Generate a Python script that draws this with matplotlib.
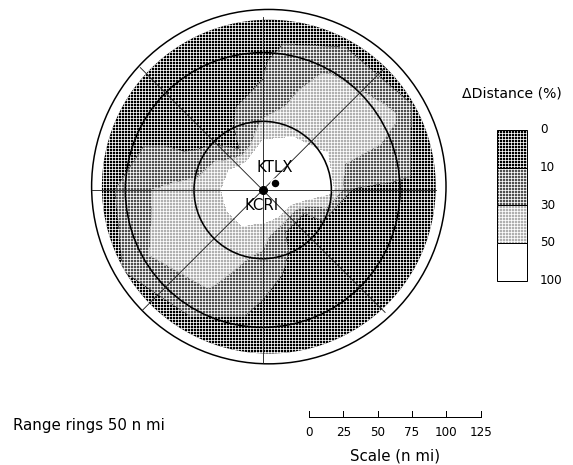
import numpy as np
import matplotlib
matplotlib.use("Agg")
import matplotlib.pyplot as plt
from matplotlib.patches import Circle, Rectangle

# Delta distance (%): rows = azimuth (deg clockwise from N),
# columns = range from KCRI (n mi)
azimuths = [0, 30, 60, 90, 120, 150, 180, 210, 240, 270, 300, 330]
ranges = [0, 15, 25, 35, 50, 65, 80, 95, 110, 125, 140]
ddist = [
    [100, 85, 70, 52, 32, 18, 10, 8, 7, 5, 5],
    [100, 88, 75, 58, 45, 42, 40, 33, 18, 6, 5],
    [100, 92, 85, 75, 52, 45, 42, 40, 33, 10, 5],
    [100, 92, 85, 75, 55, 9, 7, 6, 5, 5, 5],
    [100, 75, 40, 8, 5, 5, 5, 5, 5, 5, 5],
    [100, 70, 42, 8, 5, 5, 5, 5, 5, 5, 5],
    [100, 80, 48, 38, 25, 14, 10, 7, 5, 5, 5],
    [100, 85, 55, 45, 40, 38, 32, 18, 7, 5, 5],
    [100, 85, 55, 45, 40, 38, 36, 30, 15, 5, 5],
    [100, 80, 58, 42, 38, 35, 30, 20, 8, 5, 5],
    [100, 80, 55, 40, 14, 6, 5, 5, 5, 5, 5],
    [100, 75, 45, 9, 5, 5, 5, 5, 5, 5, 5],
]

levels = [0, 10, 30, 50, 100]
level_labels = ['0', '10', '30', '50', '100']
# screen of each band, darkest first: dots of face colour inside a white grid
band_face = ['black', '#505050', '#b0b0b0', 'white']
band_hatch = ['++++', '++++', '++++', None]

radars = ['KCRI', 'KTLX']
radar_x = [0.0, 8.9]
radar_y = [0.0, 4.9]

ring_ranges = [50, 100]
spoke_az = [0, 45, 90, 135, 180, 225, 270, 315]
spoke_len = 126
domain_r = 121.5
outer_r = 129
scale_ticks = [0, 25, 50, 75, 100, 125]

plt.rcParams['font.family'] = 'DejaVu Sans'
plt.rcParams['hatch.linewidth'] = 0.75
plt.rcParams['hatch.color'] = 'white'

S = 1.3736  # px per n mi
fig = plt.figure(figsize=(573 / 72, 465 / 72), dpi=72)
ax = fig.add_axes([0, 0, 1, 1])
ax.set_xlim(-262.7 / S, (573 - 262.7) / S)
ax.set_ylim((190 - 465) / S, 190 / S)
ax.axis('off')

# field on the polar grid (close the circle by repeating north)
az = np.radians(azimuths + [360])
Z = np.array(ddist + [ddist[0]], float)
R, A = np.meshgrid(ranges, az)
X = R * np.sin(A)
Y = R * np.cos(A)

mid = ((radar_x[0] + radar_x[1]) / 2, (radar_y[0] + radar_y[1]) / 2)
clip = Circle(mid, domain_r, transform=ax.transData, facecolor='none', edgecolor='none')
ax.add_patch(clip)
cs = ax.contourf(X, Y, Z, levels=levels, colors=band_face, hatches=band_hatch)
cs.set_clip_path(clip)

# range rings and azimuth lines
outer = Circle(mid, outer_r, facecolor='none', edgecolor='black', lw=1.5, zorder=3)
ax.add_patch(outer)
for r in ring_ranges:
    ax.add_patch(Circle((0, 0), r, facecolor='none', edgecolor='black', lw=1.6, zorder=3))
for a in spoke_az:
    t = np.radians(a)
    ln, = ax.plot([0, spoke_len * np.sin(t)], [0, spoke_len * np.cos(t)],
                  color='#222222', lw=0.9, zorder=3)
    ln.set_clip_path(outer)

# radars
ax.plot(radar_x[0], radar_y[0], 'o', color='black', ms=8, zorder=5)
ax.plot(radar_x[1], radar_y[1], 'o', color='black', ms=9, mec='white', mew=1.5, zorder=5)
ax.text(radar_x[1] + 0.05, 16.7, radars[1], ha='center', va='center', fontsize=15, zorder=6)
ax.text(-0.5, -11.4, radars[0], ha='center', va='center', fontsize=15, zorder=6)

# legend
lx0, lx1 = 170.7, 192.6
ly_top, ly_bot = 43.7, -66.0
edges = np.linspace(ly_top, ly_bot, len(levels))
for i in range(len(levels) - 1):
    h = edges[i] - edges[i + 1]
    ax.add_patch(Rectangle((lx0, edges[i + 1]), lx1 - lx0, h, facecolor=band_face[i],
                           edgecolor='white', lw=0, hatch=band_hatch[i]))
    ax.add_patch(Rectangle((lx0, edges[i + 1]), lx1 - lx0, h, facecolor='none',
                           edgecolor='black', lw=1.0))
for y, lab in zip(edges, level_labels):
    ax.text(201.9, y, lab, ha='left', va='center', fontsize=12)
ax.text(181.1, 70.4, '\u0394Distance (%)', ha='center', va='center', fontsize=14)

# scale bar
x0 = 33.7
ybar = -165.0
ax.plot([x0, x0 + scale_ticks[-1]], [ybar, ybar], color='black', lw=1.0)
for t in scale_ticks:
    ax.plot([x0 + t, x0 + t], [ybar, ybar + 4.4], color='black', lw=1.0)
    ax.text(x0 + t, -176.9, str(t), ha='center', va='center', fontsize=12)
ax.text(x0 + scale_ticks[-1] / 2, -193.7, 'Scale (n mi)', ha='center', va='center', fontsize=15)
ax.text(-182, -171.6, 'Range rings 50 n mi', ha='left', va='center', fontsize=15)

fig.savefig('out.png', dpi=72)
